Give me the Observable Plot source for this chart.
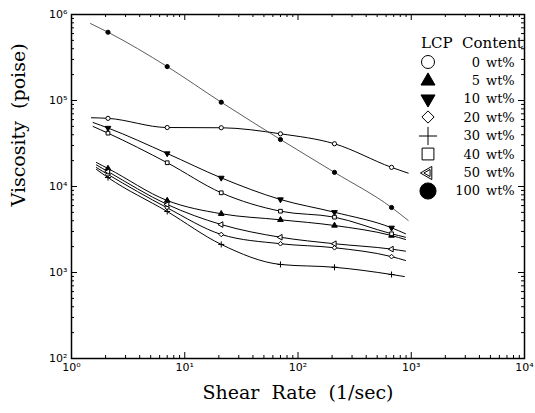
<!DOCTYPE html>
<html><head><meta charset="utf-8">
<script src="https://cdn.jsdelivr.net/npm/d3@7"></script>
<script src="https://cdn.jsdelivr.net/npm/@observablehq/plot@0.6"></script>
<style>
body{margin:0;background:#fff;}
#wrap{position:relative;width:535px;height:413px;overflow:hidden;}
#legend{position:absolute;left:416px;top:34px;font-family:"DejaVu Serif";color:#000;}
#legend .hdr{font-size:15px;line-height:19px;white-space:nowrap;margin-left:5px;}
#legend .row{display:flex;align-items:center;height:18.4px;font-size:13px;white-space:nowrap;}
#legend .num{width:40px;text-align:right;}
#legend .unit{margin-left:6px;}
</style></head><body>
<div id="wrap"><div id="chart"></div><div id="legend"></div></div>
<script>
// ---- data ----
const shearRate = [2.1, 7, 21, 70, 210, 670];           // 1/sec
const lcpContent = [0, 5, 10, 20, 30, 40, 50, 100];      // wt%
const visc_0   = [62000, 48500, 48200, 41000, 31400, 16700];
const visc_5   = [16200, 6870, 4820, 4100, 3520, 2690];
const visc_10  = [47900, 24200, 12600, 7060, 5020, 3310];
const visc_20  = [13800, 5650, 2770, 2160, 1940, 1530];
const visc_30  = [12700, 5120, 2120, 1240, 1150, 948];
const visc_40  = [41700, 18900, 8450, 5160, 4400, 2820];
const visc_50  = [14900, 6180, 3610, 2570, 2160, 1870];
const visc_100 = [622000, 248000, 95500, 35200, 14600, 5700];
// fitted-curve ends (same series order as lcpContent)
const fitStartRate = [1.5, 1.66, 1.55, 1.66, 1.66, 1.55, 1.66, 1.47];
const fitStartVisc = [63000, 19000, 55500, 16600, 15800, 49900, 17800, 785000];
const fitEndRate   = [940, 890, 890, 890, 870, 890, 890, 940];
const fitEndVisc   = [14300, 2420, 2820, 1380, 897, 2570, 1770, 4030];
// axis tick labels
const xMajor = [1, 10, 100, 1000, 10000];
const xTickLabels = ["10\u2070", "10\u00b9", "10\u00b2", "10\u00b3", "10\u2074"];
const yMajor = [100, 1000, 10000, 100000, 1000000];
const yTickLabels = ["10\u00b2", "10\u00b3", "10\u2074", "10\u2075", "10\u2076"];
const xTitle = "Shear\u00a0 Rate\u00a0 (1/sec)";
const yTitle = "Viscosity\u00a0 (poise)";
const legendTitle = "LCP\u00a0 Content";

// ---- marker styles ----
const seriesValues = [visc_0, visc_5, visc_10, visc_20, visc_30, visc_40, visc_50, visc_100];
const styles = [
  {symbol: "circle",   fill: "white", rotate: 0,   legendSize: 133},
  {symbol: "triangle", fill: "black", rotate: 0,   legendSize: 85},
  {symbol: "triangle", fill: "black", rotate: 180, legendSize: 85},
  {symbol: "diamond2", fill: "white", rotate: 0,   legendSize: 95},
  {symbol: "plus",     fill: "none",  rotate: 0,   legendSize: 110},
  {symbol: "square",   fill: "white", rotate: 0,   legendSize: 140},
  {symbol: "triangle", fill: "white", rotate: -90, legendSize: 75},
  {symbol: "circle",   fill: "black", rotate: 0,   legendSize: 205}
];

const W = 535, H = 413, mL = 71, mR = 11, mT = 14, mB = 55;
const innerW = W - mL - mR, innerH = H - mT - mB;

const marks = [];
seriesValues.forEach((vals, s) => {
  const pts = shearRate.map((x, i) => ({x, y: vals[i]}));
  const line = [{x: fitStartRate[s], y: fitStartVisc[s]}, ...pts, {x: fitEndRate[s], y: fitEndVisc[s]}];
  marks.push(Plot.line(line, {x: "x", y: "y", curve: "monotone-x",
    stroke: s === 7 ? "#333" : "black", strokeWidth: s === 7 ? 0.8 : 1}));
});
seriesValues.forEach((vals, s) => {
  const pts = shearRate.map((x, i) => ({x, y: vals[i]}));
  const st = styles[s];
  marks.push(Plot.dot(pts, {x: "x", y: "y", symbol: st.symbol, r: 2.1,
    fill: st.fill, stroke: "black", strokeWidth: 1, rotate: st.rotate}));
});

// tick positions
const xMinor = [], yMinor = [];
for (let e = 0; e < 4; e++) for (let k = 2; k <= 9; k++) xMinor.push(k * 10 ** e);
for (let e = 2; e < 6; e++) for (let k = 2; k <= 9; k++) yMinor.push(k * 10 ** e);
const xLab = new Map(xMajor.map((d, i) => [d, xTickLabels[i]]));
const yLab = new Map(yMajor.map((d, i) => [d, yTickLabels[i]]));

const chart = Plot.plot({
  width: W, height: H,
  marginLeft: mL, marginRight: mR, marginTop: mT, marginBottom: mB,
  style: {fontFamily: "DejaVu Sans", fontSize: "11px", background: "white", color: "black", overflow: "visible"},
  x: {type: "log", domain: [1, 10000]},
  y: {type: "log", domain: [100, 1000000]},
  marks: [
    Plot.tickX(xMinor, {x: d => d, insetTop: innerH - 3, stroke: "black"}),
    Plot.tickX(xMinor, {x: d => d, insetBottom: innerH - 3, stroke: "black"}),
    Plot.tickX(xMajor, {x: d => d, insetTop: innerH - 6, stroke: "black"}),
    Plot.tickX(xMajor, {x: d => d, insetBottom: innerH - 6, stroke: "black"}),
    Plot.tickY(yMinor, {y: d => d, insetRight: innerW - 3, stroke: "black"}),
    Plot.tickY(yMinor, {y: d => d, insetLeft: innerW - 3, stroke: "black"}),
    Plot.tickY(yMajor, {y: d => d, insetRight: innerW - 6, stroke: "black"}),
    Plot.tickY(yMajor, {y: d => d, insetLeft: innerW - 6, stroke: "black"}),
    Plot.axisX(xMajor, {anchor: "bottom", tickSize: 0, tickPadding: 5, tickFormat: d => xLab.get(d), label: null, fontSize: 11}),
    Plot.axisY(yMajor, {anchor: "left", tickSize: 0, tickPadding: 4, tickFormat: d => yLab.get(d), label: null, fontSize: 11}),
    ...marks,
    Plot.frame({stroke: "black", strokeWidth: 1.5}),
    Plot.text([xTitle], {text: d => d, frameAnchor: "bottom", dy: 40, fontSize: 19, fontFamily: "DejaVu Serif"}),
    Plot.text([yTitle], {text: d => d, frameAnchor: "left", dx: -53, dy: 20, rotate: -90, fontSize: 19, fontFamily: "DejaVu Serif"})
  ]
});
document.getElementById("chart").appendChild(chart);

// ---- legend ----
const legend = d3.select("#legend");
legend.append("div").attr("class", "hdr").text(legendTitle);
const symMap = {circle: d3.symbolCircle, triangle: d3.symbolTriangle, diamond2: d3.symbolDiamond2, plus: d3.symbolPlus, square: d3.symbolSquare};
lcpContent.forEach((c, i) => {
  const st = styles[i];
  const row = legend.append("div").attr("class", "row");
  const svg = row.append("svg").attr("width", 24).attr("height", 18).style("overflow", "visible");
  const g = svg.append("g").attr("transform", `translate(12,9) rotate(${st.rotate})`);
  g.append("path").attr("d", d3.symbol(symMap[st.symbol], st.legendSize)())
    .attr("fill", st.fill).attr("stroke", "black").attr("stroke-width", 1);
  if (i === 6) g.append("path").attr("d", d3.symbol(d3.symbolTriangle, 22)()).attr("fill", "none").attr("stroke", "black").attr("stroke-width", 1);
  row.append("span").attr("class", "num").text(c);
  row.append("span").attr("class", "unit").text("wt%");
});
</script>
</body></html>
